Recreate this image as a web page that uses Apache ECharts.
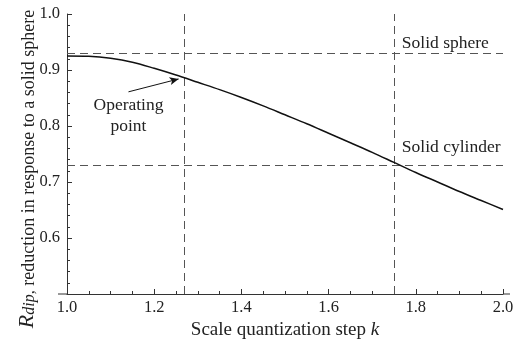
<!DOCTYPE html>
<html>
<head>
<meta charset="utf-8">
<script src="https://cdn.jsdelivr.net/npm/echarts@6/dist/echarts.min.js"></script>
<style>
  html, body { margin: 0; padding: 0; background: #fff; }
  #chart { width: 526px; height: 355px; }
</style>
</head>
<body>
<div id="chart"></div>
<script>
// Scale quantization step k and the dipole reduction ratio R_dip
const kValues = [1.0, 1.05, 1.1, 1.15, 1.2, 1.25, 1.3, 1.35, 1.4, 1.45, 1.5,
                 1.55, 1.6, 1.65, 1.7, 1.75, 1.8, 1.85, 1.9, 1.95, 2.0];
const rDip = [0.925, 0.9245, 0.921, 0.914, 0.903, 0.891, 0.878, 0.865, 0.851, 0.836, 0.820,
              0.804, 0.787, 0.770, 0.753, 0.735, 0.717, 0.700, 0.683, 0.667, 0.651];

// Reference levels and marked steps
const sphereLevel = 0.9255;
const cylinderLevel = 0.7345;
const operatingK = 1.268;
const cylinderK = 1.745;

// Arrow pointing at the operating point (tail, head)
const arrowTail = [1.141, 0.861];
const arrowHead = [1.256, 0.884];

const xTicks = [1.0, 1.2, 1.4, 1.6, 1.8, 2.0];
const yTicks = [0.6, 0.7, 0.8, 0.9, 1.0];

const FONT = '"Liberation Serif", "Times New Roman", serif';
const INK = '#222';
const DASH = '#555';

const chart = echarts.init(document.getElementById('chart'), null, { renderer: 'canvas' });

const dashStyle = { color: DASH, width: 1, type: [8, 5] };

chart.setOption({
  animation: false,
  backgroundColor: '#fff',
  grid: { left: 67, right: 23, top: 14, bottom: 61, containLabel: false },
  xAxis: {
    type: 'value',
    min: 1.0, max: 2.0, interval: 0.2,
    name: '{t|Scale quantization step }{i|k}',
    nameLocation: 'middle',
    nameGap: 22,
    nameTextStyle: {
      rich: {
        t: { fontFamily: FONT, fontSize: 19, color: INK },
        i: { fontFamily: FONT, fontSize: 19, color: INK, fontStyle: 'italic' }
      }
    },
    axisLine: { show: true, onZero: false, lineStyle: { color: '#333', width: 1 } },
    axisTick: { show: true, inside: true, length: 5, lineStyle: { color: '#333' } },
    minorTick: { show: true, splitNumber: 4, length: 3, lineStyle: { color: '#333' } },
    splitLine: { show: false },
    axisLabel: {
      fontFamily: FONT, fontSize: 16.5, color: INK, margin: 5,
      formatter: v => xTicks.some(t => Math.abs(t - v) < 1e-9) ? v.toFixed(1) : ''
    }
  },
  yAxis: {
    type: 'value',
    min: 0.5, max: 1.0, interval: 0.1,
    axisLine: { show: true, onZero: false, lineStyle: { color: '#333', width: 1 } },
    axisTick: { show: true, inside: true, length: 5, lineStyle: { color: '#333' } },
    minorTick: { show: true, splitNumber: 5, length: 3, lineStyle: { color: '#333' } },
    splitLine: { show: false },
    axisLabel: {
      fontFamily: FONT, fontSize: 16.5, color: INK, margin: 7,
      formatter: v => yTicks.some(t => Math.abs(t - v) < 1e-9) ? v.toFixed(1) : ''
    }
  },
  series: [
    {
      type: 'line',
      data: kValues.map((k, i) => [k, rDip[i]]),
      smooth: 0.3,
      showSymbol: false,
      lineStyle: { color: '#111', width: 1.5 },
      z: 5,
      markLine: {
        silent: true,
        symbol: ['none', 'none'],
        label: { show: false },
        lineStyle: dashStyle,
        data: [
          { yAxis: sphereLevel },
          { yAxis: cylinderLevel },
          { xAxis: operatingK },
          { xAxis: cylinderK },
          [
            { coord: arrowTail, symbol: 'none' },
            { coord: arrowHead, symbol: 'arrow', symbolSize: [6, 9],
              lineStyle: { type: 'solid', color: '#111', width: 1 } }
          ]
        ]
      }
    }
  ]
});

// Axis line overhang, text labels and the rotated y title
const at = (x, y) => chart.convertToPixel({ gridIndex: 0 }, [x, y]);
const p0 = at(1.0, 0.5);
const p1 = at(2.0, 1.0);

const sphereP = at(cylinderK, sphereLevel);
const cylP = at(cylinderK, cylinderLevel);
const opP = at(arrowTail[0], arrowTail[1]);

chart.setOption({
  graphic: [
    { type: 'line', shape: { x1: p0[0] - 9, y1: p0[1], x2: p0[0], y2: p0[1] },
      style: { stroke: '#333', lineWidth: 1 } },
    { type: 'line', shape: { x1: p1[0], y1: p0[1], x2: p1[0] + 7, y2: p0[1] },
      style: { stroke: '#333', lineWidth: 1 } },
    { type: 'text', x: sphereP[0] + 10, y: sphereP[1] - 12,
      style: { text: 'Solid sphere', font: '17.5px ' + FONT, fill: INK,
               textAlign: 'left', textVerticalAlign: 'middle' } },
    { type: 'text', x: cylP[0] + 10, y: cylP[1] - 15,
      style: { text: 'Solid cylinder', font: '17.5px ' + FONT, fill: INK,
               textAlign: 'left', textVerticalAlign: 'middle' } },
    { type: 'text', x: opP[0], y: opP[1] + 24,
      style: { text: 'Operating\npoint', font: '17.5px ' + FONT, fill: INK,
               lineHeight: 21, textAlign: 'center', textVerticalAlign: 'middle' } },
    { type: 'text', x: 26, y: 169, rotation: Math.PI / 2,
      style: {
        text: '{R|R}{s|dip,}{t| reduction in response to a solid sphere}',
        textAlign: 'center', textVerticalAlign: 'middle',
        rich: {
          R: { fontFamily: FONT, fontSize: 22, fontStyle: 'italic', fill: INK, lineHeight: 24, verticalAlign: 'bottom' },
          s: { fontFamily: FONT, fontSize: 16, fontStyle: 'italic', fill: INK, lineHeight: 24, verticalAlign: 'bottom', padding: [9, 0, 0, 0] },
          t: { fontFamily: FONT, fontSize: 18, fill: INK, lineHeight: 24, verticalAlign: 'bottom' }
        }
      } }
  ]
});
</script>
</body>
</html>
